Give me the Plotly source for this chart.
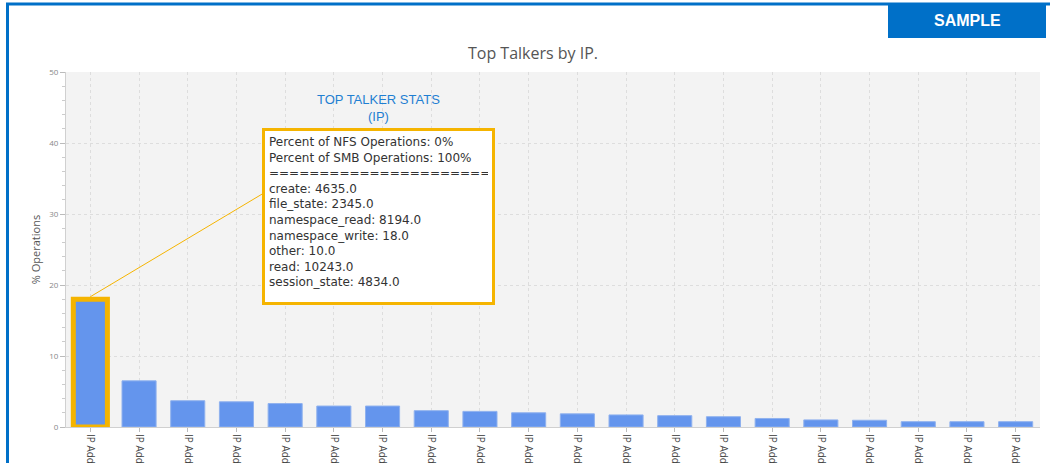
import plotly.graph_objects as go

# top talkers, % of operations per IP
ips = ["IP Address %d" % i for i in range(1, 21)]
pct_ops = [18.0, 6.5, 3.7, 3.55, 3.3, 2.95, 2.95, 2.3, 2.2, 2.0,
           1.85, 1.7, 1.6, 1.45, 1.2, 1.0, 0.95, 0.75, 0.75, 0.75]

stats_title = "TOP TALKER STATS<br>(IP)"
stats_lines = [
    "Percent of NFS Operations: 0%",
    "Percent of SMB Operations: 100%",
    "=" * 45,
    "create: 4635.0",
    "file_state: 2345.0",
    "namespace_read: 8194.0",
    "namespace_write: 18.0",
    "other: 10.0",
    "read: 10243.0",
    "session_state: 4834.0",
]

ORANGE = "#f5b400"
BLUE = "#0070c8"

line_colors = [ORANGE] + ["#8fb1ee"] * (len(ips) - 1)
line_widths = [5] + [1] * (len(ips) - 1)

fig = go.Figure()
fig.add_trace(go.Bar(
    x=ips, y=pct_ops,
    marker=dict(color="#6495ed", line=dict(color=line_colors, width=line_widths)),
    hoverinfo="x+y",
))

# plot area in pixels: x 66..1040, y 72..427
L, R, T, B = 66, 10, 72, 36
W, H = 1050 - L - R, 463 - T - B


def px(x):
    return (x - L) / W


def py(y):
    return (463 - B - y) / H


fig.update_layout(
    width=1050, height=463,
    margin=dict(l=L, r=R, t=T, b=B),
    paper_bgcolor="white",
    plot_bgcolor="#f3f3f3",
    font=dict(family="Open Sans", size=11, color="#555"),
    showlegend=False,
    bargap=0.3,
    title=dict(text="Top Talkers by IP.", x=533 / 1050, xref="container", xanchor="center",
               y=1 - 53 / 463, yref="container", yanchor="middle",
               font=dict(family="Open Sans", size=16, color="#555")),
    xaxis=dict(
        tickangle=90, tickfont=dict(size=10, color="#444"),
        showgrid=True, gridcolor="#dddddd", griddash="3px,3px", gridwidth=1,
        showline=True, linecolor="#d0d0d0", ticks="outside", ticklen=4, tickcolor="#bbb",
        automargin=False,
    ),
    yaxis=dict(
        range=[0, 50], dtick=10, tickfont=dict(size=8, color="#888"),
        showgrid=True, gridcolor="#dddddd", griddash="3px,3px", gridwidth=1,
        zeroline=False,
        showline=True, linecolor="#d0d0d0", ticks="outside", ticklen=5, tickcolor="#bbb",
        minor=dict(dtick=2, ticks="outside", ticklen=3, tickcolor="#ccc", showgrid=False),
        title=dict(text="% Operations", font=dict(size=11, color="#555"), standoff=6),
        automargin=False,
    ),
)

# connector from highlighted bar to the stats box
fig.add_annotation(x=ips[0], y=pct_ops[0] + 0.35, text="", showarrow=True,
                   arrowhead=0, arrowwidth=1, arrowcolor=ORANGE,
                   ax=174, ay=-104, xanchor="left")

fig.add_annotation(x=px(378), y=py(108), xref="paper", yref="paper", text=stats_title,
                   xanchor="center", yanchor="middle", showarrow=False,
                   font=dict(family="Arial", size=13, color="#1f7fd2"))

fig.add_annotation(x=px(378.5), y=py(216.5), xref="paper", yref="paper",
                   xanchor="center", yanchor="middle",
                   text="<br>".join(stats_lines), showarrow=False,
                   align="left", valign="top", width=219, height=163,
                   bgcolor="white", bordercolor=ORANGE, borderwidth=3, borderpad=4,
                   font=dict(family="DejaVu Sans", size=12, color="#333"))

# page frame and SAMPLE badge
fig.add_shape(type="line", xref="paper", yref="paper", x0=px(7.5), x1=px(7.5),
              y0=py(3), y1=py(470), line=dict(color=BLUE, width=3))
fig.add_shape(type="line", xref="paper", yref="paper", x0=px(6), x1=px(1052),
              y0=py(4), y1=py(4), line=dict(color=BLUE, width=3))
fig.add_shape(type="rect", xref="paper", yref="paper", x0=px(888), x1=px(1046),
              y0=py(38), y1=py(5), fillcolor=BLUE, line=dict(width=0))
fig.add_annotation(x=px(967), y=py(21), xref="paper", yref="paper", text="<b>SAMPLE</b>",
                   xanchor="center", yanchor="middle", showarrow=False,
                   font=dict(family="Arial", size=16, color="white"))

fig.write_html("out.html", config={"displayModeBar": False},
               post_script="document.body.style.margin='0';")
